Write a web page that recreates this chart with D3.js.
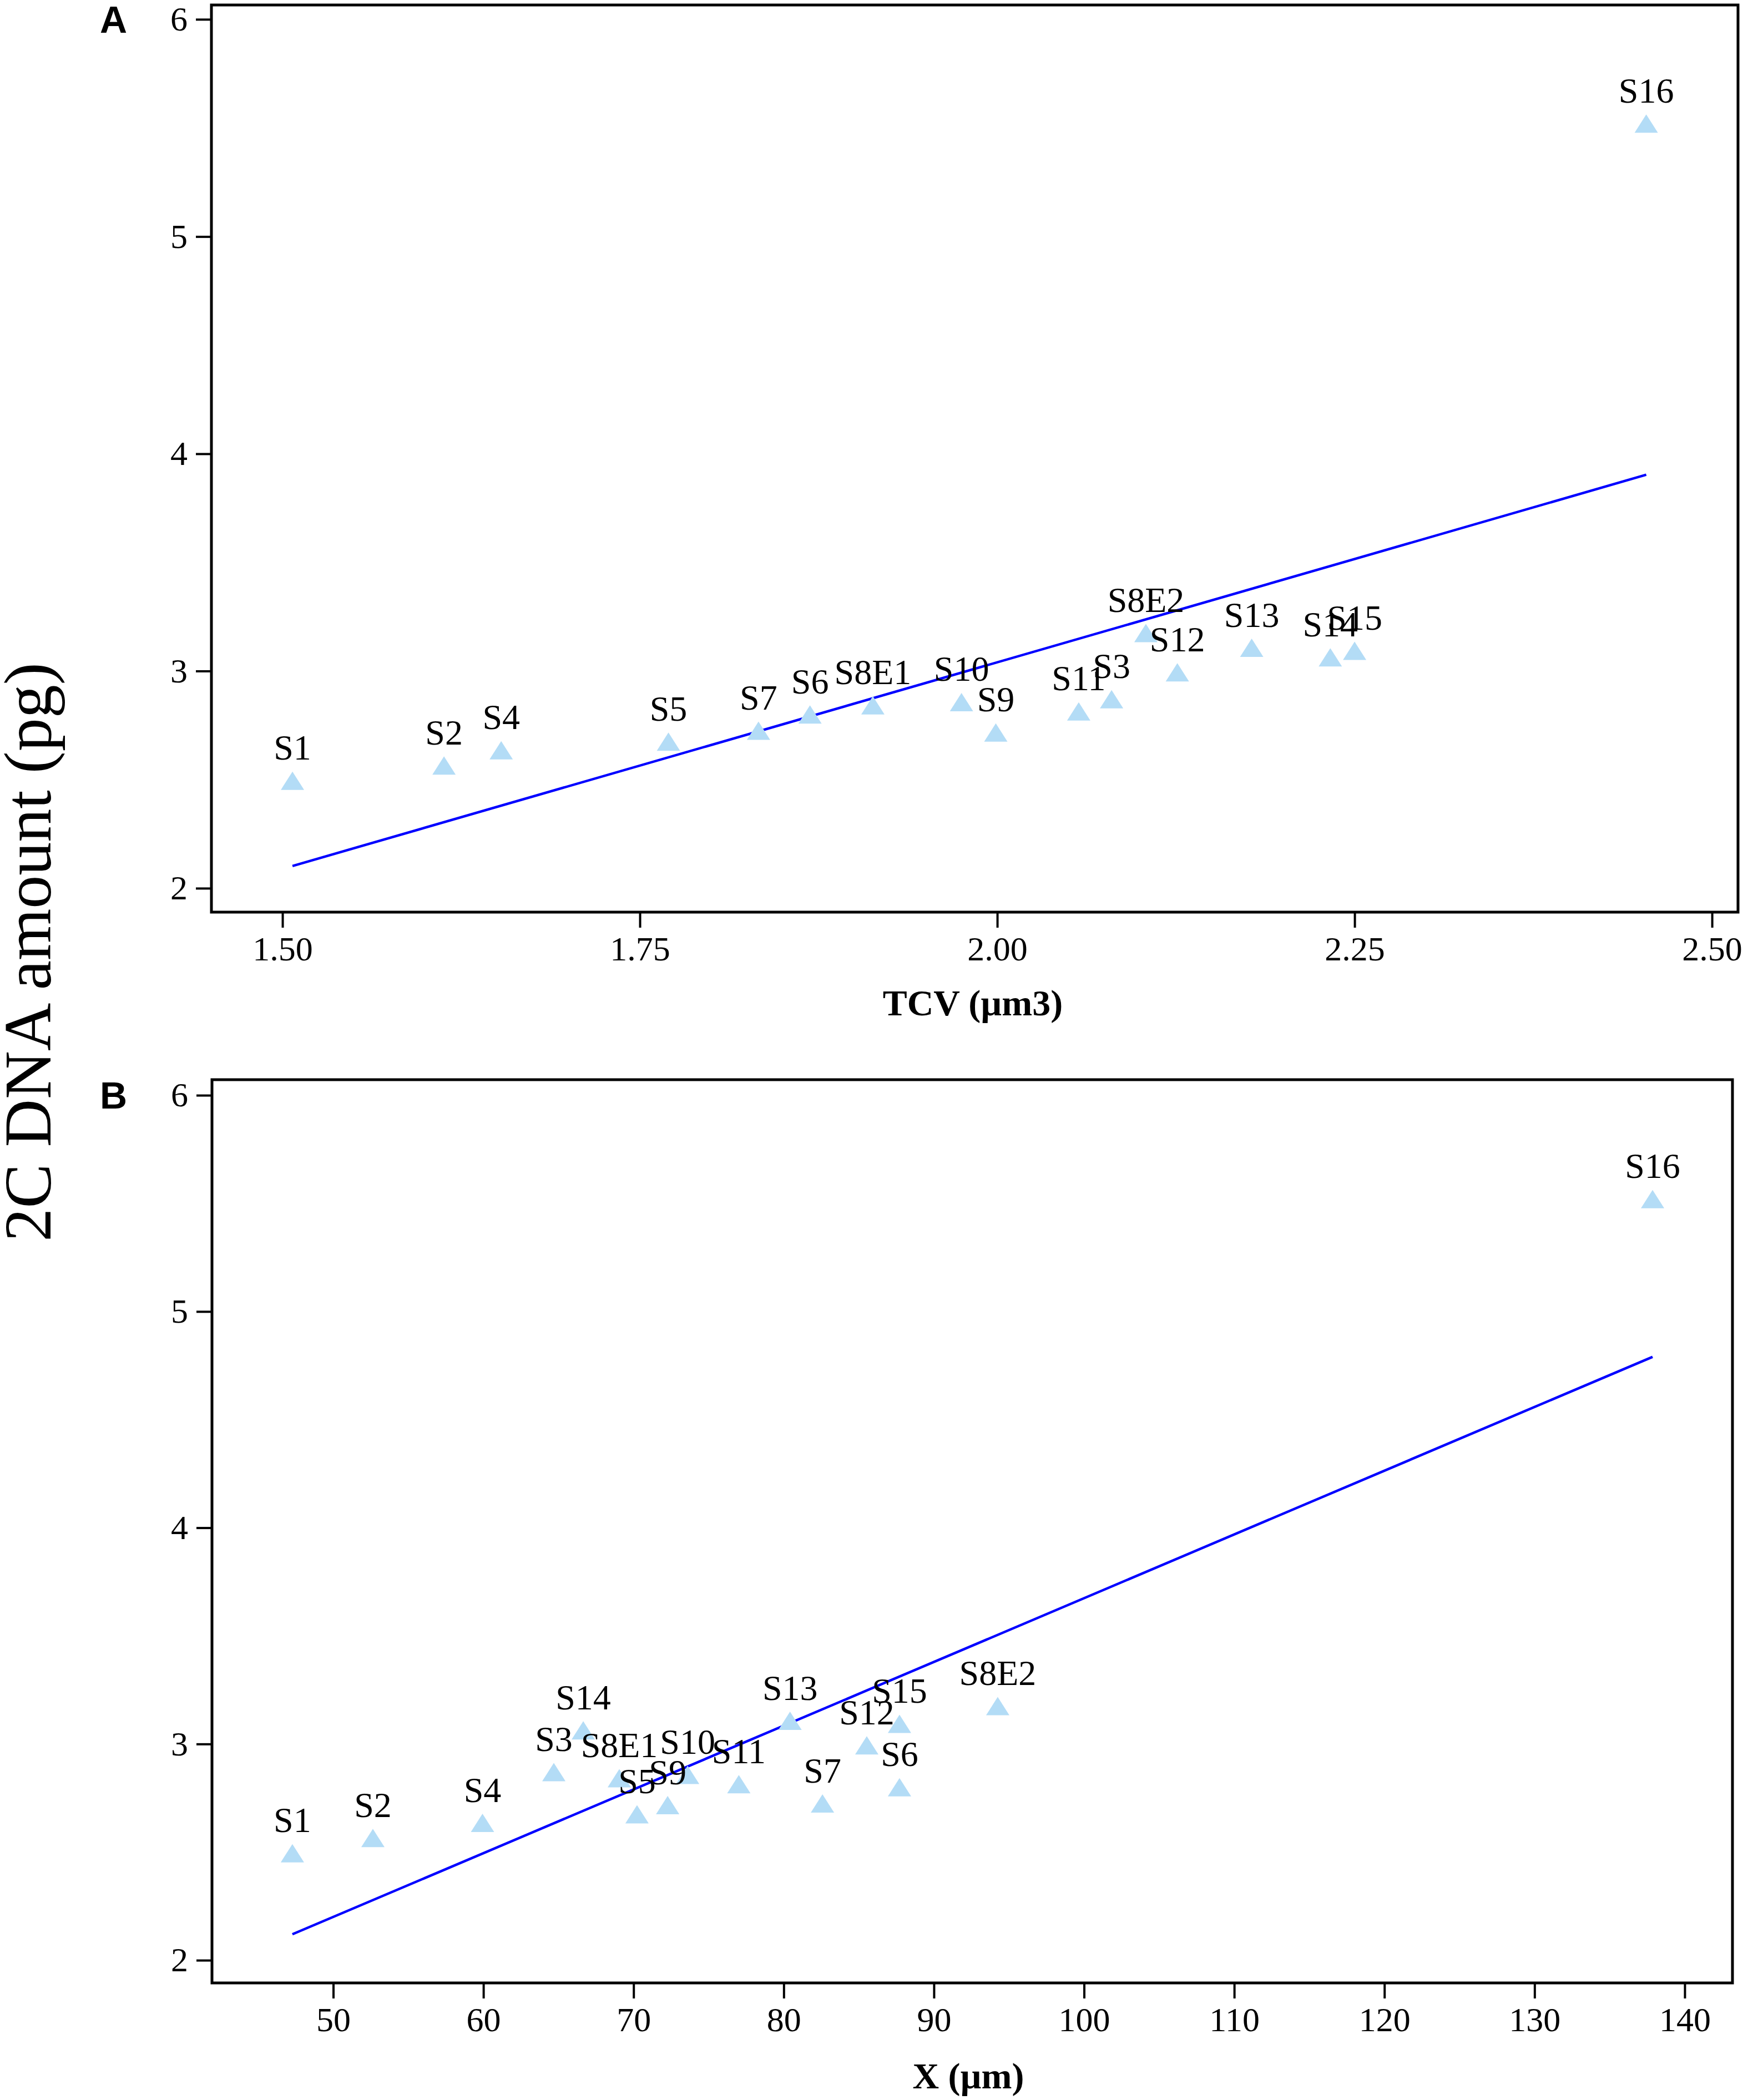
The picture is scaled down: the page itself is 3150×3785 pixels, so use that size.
<!DOCTYPE html>
<html>
<head>
  <meta charset="utf-8">
  <title>2C DNA amount vs TCV and X</title>
  <script src="https://d3js.org/d3.v7.min.js"></script>
  <style>
    body { margin: 0; background: #fff; }
    svg { display: block; }
  </style>
</head>
<body>
  <script>
    // species labels, same order in every array
    const species = ["S1", "S2", "S3", "S4", "S5", "S6", "S7", "S8E1", "S8E2",
                     "S9", "S10", "S11", "S12", "S13", "S14", "S15", "S16"];
    // 2C DNA amount (pg), shared by both panels
    const dnaAmount = [2.495, 2.565, 2.87, 2.635, 2.675, 2.80, 2.725, 2.842, 3.175,
                       2.717, 2.857, 2.814, 2.994, 3.107, 3.063, 3.093, 5.52];
    // panel A: TCV (µm3)
    const tcv = [1.507, 1.613, 2.080, 1.653, 1.770, 1.869, 1.833, 1.913, 2.104,
                 1.999, 1.975, 2.057, 2.126, 2.178, 2.233, 2.250, 2.454];
    // panel B: X (µm)
    const xLength = [47.28, 52.64, 64.69, 59.94, 70.23, 87.71, 82.58, 69.05, 94.25,
                     72.27, 73.60, 77.01, 85.53, 80.42, 66.65, 87.71, 137.86];

    const tcvTicks = [1.5, 1.75, 2.0, 2.25, 2.5];
    const xLengthTicks = [50, 60, 70, 80, 90, 100, 110, 120, 130, 140];
    const dnaTicks = [2, 3, 4, 5, 6];

    const width = 3150;
    const height = 3785;
    const serif = '"Liberation Serif", "Times New Roman", serif';

    let svg = d3.select('body')
      .append('svg')
      .attr('width', width)
      .attr('height', height);

    // least squares fit y = a + b x
    function fit(xs, ys) {
      let mx = d3.mean(xs), my = d3.mean(ys);
      let sxy = d3.sum(xs, (x, i) => (x - mx) * (ys[i] - my));
      let sxx = d3.sum(xs, x => (x - mx) * (x - mx));
      let b = sxy / sxx;
      return { a: my - b * mx, b: b };
    }

    function drawPanel(p) {
      let x = d3.scaleLinear().domain(p.xDomain).range([p.left, p.right]);
      let y = d3.scaleLinear().domain(p.yDomain).range([p.bottom, p.top]);
      let g = svg.append('g');

      // axes
      let xAxis = d3.axisBottom(x).tickValues(p.xTicks).tickFormat(p.fmt)
        .tickSize(28).tickSizeOuter(0).tickPadding(15);
      let yAxis = d3.axisLeft(y).tickValues(dnaTicks).tickFormat(d3.format('d'))
        .tickSize(28).tickSizeOuter(0).tickPadding(15);

      let gx = g.append('g').attr('transform', `translate(0,${p.bottom})`).call(xAxis);
      let gy = g.append('g').attr('transform', `translate(${p.left},0)`).call(yAxis);
      [gx, gy].forEach(a => {
        a.select('.domain').remove();
        a.selectAll('.tick line').attr('stroke', '#000').attr('stroke-width', 4);
        a.selectAll('.tick text')
          .attr('fill', '#000')
          .style('font-family', serif)
          .style('font-size', '62px');
      });

      // frame
      g.append('rect')
        .attr('x', p.left).attr('y', p.top)
        .attr('width', p.right - p.left).attr('height', p.bottom - p.top)
        .attr('fill', 'none').attr('stroke', '#000').attr('stroke-width', 5);

      // regression line
      let f = fit(p.xs, dnaAmount);
      let ext = d3.extent(p.xs);
      g.append('path')
        .datum(ext)
        .attr('d', d3.line().x(d => x(d)).y(d => y(f.a + f.b * d)))
        .attr('stroke', '#0000ff').attr('stroke-width', 4.5).attr('fill', 'none');

      // triangles
      let pts = species.map((s, i) => ({ name: s, xv: p.xs[i], yv: dnaAmount[i] }));
      g.selectAll('path.pt')
        .data(pts)
        .enter()
        .append('path')
        .attr('class', 'pt')
        .attr('d', d => {
          let cx = x(d.xv), cy = y(d.yv);
          return `M${cx - 21},${cy + 16.5}L${cx + 21},${cy + 16.5}L${cx},${cy - 16.5}Z`;
        })
        .attr('fill', '#b3dcf6');

      // point labels
      g.selectAll('text.lbl')
        .data(pts)
        .enter()
        .append('text')
        .attr('class', 'lbl')
        .attr('x', d => x(d.xv))
        .attr('y', d => y(d.yv) - 38)
        .attr('text-anchor', 'middle')
        .style('font-family', serif)
        .style('font-size', '64px')
        .text(d => d.name);

      // axis title
      g.append('text')
        .attr('x', p.titleX).attr('y', p.titleY)
        .attr('text-anchor', 'middle')
        .style('font-family', serif)
        .style('font-weight', 'bold')
        .style('font-size', '66px')
        .text(p.title);

      // panel letter
      g.append('text')
        .attr('x', 180).attr('y', p.letterY)
        .style('font-family', '"Liberation Sans", Arial, sans-serif')
        .style('font-weight', 'bold')
        .style('font-size', '68px')
        .text(p.letter);
    }

    drawPanel({
      letter: 'A', letterY: 59,
      xs: tcv, xTicks: tcvTicks, fmt: d3.format('.2f'),
      xDomain: [1.4503, 2.5182], yDomain: [1.890, 6.066],
      left: 381, right: 3132, top: 9, bottom: 1644,
      title: 'TCV (\u00b5m3)', titleX: 1753, titleY: 1830
    });

    drawPanel({
      letter: 'B', letterY: 1998,
      xs: xLength, xTicks: xLengthTicks, fmt: d3.format('d'),
      xDomain: [41.925, 143.18], yDomain: [1.895, 6.072],
      left: 382, right: 3122, top: 1946, bottom: 3574,
      title: 'X (\u00b5m)', titleX: 1745, titleY: 3764
    });

    // shared y title
    svg.append('text')
      .attr('transform', 'translate(91,1716) rotate(-90)')
      .attr('text-anchor', 'middle')
      .style('font-family', serif)
      .style('font-size', '120px')
      .text('2C DNA amount (pg)');
  </script>
</body>
</html>
